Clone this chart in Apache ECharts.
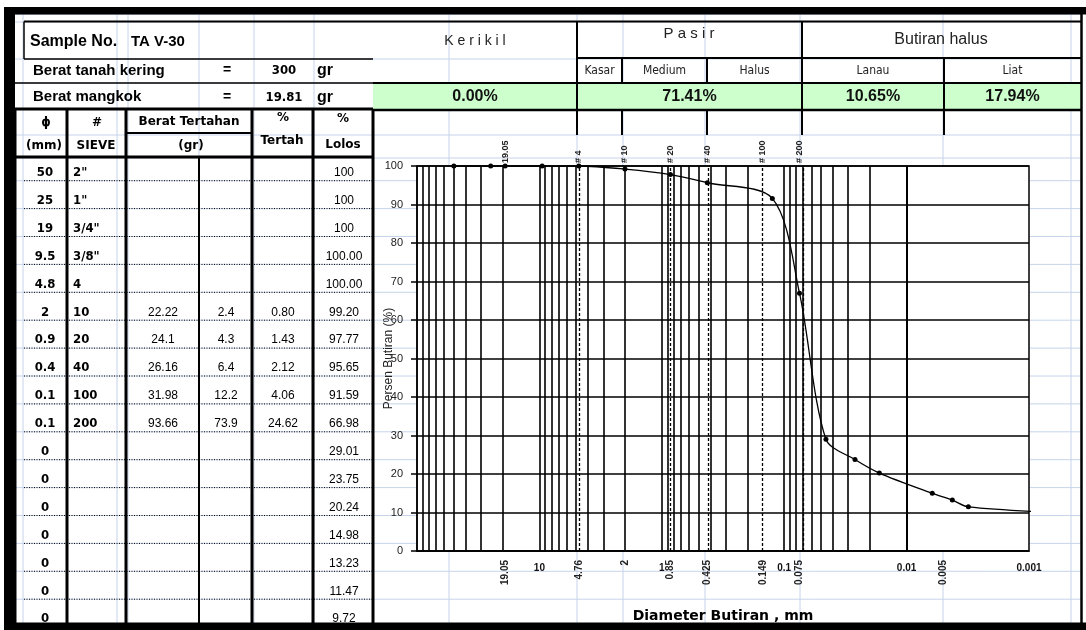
<!DOCTYPE html>
<html><head><meta charset="utf-8">
<script src="https://cdn.jsdelivr.net/npm/echarts@6/dist/echarts.min.js"></script>
<style>html,body{margin:0;padding:0;background:#fff}#c{width:1086px;height:630px}</style>
</head><body><div id="c"></div>
<script>
// ================= DATA =================
const sampleNo = 'TA V-30';
const beratTanahKering = '300';
const beratMangkok = '19.81';
const diaLabels = ['50','25','19','9.5','4.8','2','0.9','0.4','0.1','0.1','0','0','0','0','0','0','0'];
const sieveLabels = ['2"','1"','3/4"','3/8"','4','10','20','40','100','200','','','','','','',''];
const beratTertahanA = ['','','','','','22.22','24.1','26.16','31.98','93.66','','','','','','',''];
const beratTertahanB = ['','','','','','2.4','4.3','6.4','12.2','73.9','','','','','','',''];
const persenTertahan = ['','','','','','0.80','1.43','2.12','4.06','24.62','','','','','','',''];
const persenLolos = ['100','100','100','100.00','100.00','99.20','97.77','95.65','91.59','66.98','29.01','23.75','20.24','14.98','13.23','11.47','9.72'];
const fractionGroups = ['K e r i k i l','P a s i r','Butiran halus'];
const fractionSubs = ['Kasar','Medium','Halus','Lanau','Liat'];
const fractionValues = ['0.00%','71.41%','10.65%','17.94%'];

const curveDiameters = [50,25,19.05,9.5,4.76,2,0.85,0.425,0.125,0.075,0.0456,0.0264,0.0167,0.00617,0.00423,0.00313,0.0004];
const curvePercent = [100,100,100,100,100,99.20,97.77,95.65,91.59,66.98,29.01,23.75,20.24,14.98,13.23,11.47,9.72];
const sieveLineDiameters = [4.76,0.85,0.425,0.149,0.075];
const topLabelDiameters = [19.05,4.76,2,0.85,0.425,0.149,0.075];
const topLabels = ['19.05','# 4','# 10','# 20','# 40','# 100','# 200'];
const bottomLabelDiameters = [19.05,4.76,2,0.85,0.425,0.149,0.075,0.005];
const bottomLabels = ['19.05','4.76','2','0.85','0.425','0.149','0.075','0.005'];
const decadeLabels = ['0.001','0.01','0.1','1','10',''];   // for 10^-3 ... 10^2
const yMin = 0, yMax = 100, yStep = 10;

// ================= LAYOUT HELPERS =================
const G = [];
const LIGHT = '#c7d4ea';
function L(x1,y1,x2,y2,w,c,dash,z){G.push({type:'line',silent:true,z:z==null?10:z,shape:{x1,y1,x2,y2},style:{stroke:c||'#000',lineWidth:w||1,lineDash:dash||null}});}
function R(x,y,w,h,fill,z){G.push({type:'rect',silent:true,z:z==null?5:z,shape:{x,y,width:w,height:h},style:{fill}});}
function T(x,y,s,font,align,color,z){G.push({type:'text',silent:true,z:z==null?20:z,x,y,style:{text:s,font,align:align||'center',verticalAlign:'middle',fill:color||'#000'}});}

const FB = 'bold 12px "DejaVu Sans", sans-serif';
const FN = '"Liberation Sans Narrow","DejaVu Sans Condensed","Arial Narrow",sans-serif';
const FA = '"Liberation Sans", Arial, sans-serif';

// spreadsheet light grid
const rowStep = 27.9, row0 = 180.7;
const lightCols = [11.5,23,117,128,199,254,314,449,577,623,705,800,943,1071];
const lightRows = [14.5,22,59,83,109,135,158];
for (let k=0;k<16;k++) lightRows.push(row0+rowStep*k);
lightCols.forEach(x=>L(x,14,x,623,1,LIGHT,null,-1));
lightRows.forEach(y=>L(15,y,1081,y,1,LIGHT,null,-1));

// outer frame
R(4,7,1082,7.5,'#000',30);
R(4,7,11,623,'#000',30);
R(4,622.5,1082,8,'#000',30);
L(1081.5,14,1081.5,623,2.5,'#000',null,30);

// ---- upper-left info block ----
L(24,21.5,1081.5,21.5,2);
L(24,21.5,24,59,1.5);
L(24,59,373,59,1.5);
L(15,83,373,83,1.5);
L(15,109,373,109,3);
T(30,42,'Sample No.','bold 16px '+FA,'left');
T(131,42,sampleNo,'bold 15px '+FA,'left');
T(33,70.5,'Berat tanah kering','bold 15px '+FA,'left');
T(227,70.5,'=','bold 14px '+FA);
T(284,71,beratTanahKering,'bold 13px '+FN);
T(317,71,'gr','bold 16px '+FA,'left');
T(33,97,'Berat mangkok','bold 15px '+FA,'left');
T(227,97,'=','bold 14px '+FA);
T(284,97.5,beratMangkok,'bold 13px '+FN);
T(317,97.5,'gr','bold 16px '+FA,'left');

// ---- sieve table ----
const tcols = [15,67,126,252,313,373];
tcols.forEach(x=>L(x,109,x,623,3));
L(199,157,199,623,2);
L(126,133,252,133,2);
L(15,157,373,157,3);
T(46,123,'ɸ',FB); T(97,123,'#',FB);
T(189,122,'Berat Tertahan',FB);
T(283,118,'%',FB); T(282,141,'Tertah',FB);
T(343,119,'%',FB); T(343,145,'Lolos',FB);
T(44,146,'(mm)',FB); T(96,146,'SIEVE',FB); T(191,146,'(gr)',FB);
for (let k=0;k<17;k++){
  const yl = row0+rowStep*k;
  if (k<16) L(24,yl,372,yl,1,'#000',[1,1.5],12);
  const ty = yl-8;
  T(45,ty,diaLabels[k],'bold 13px '+FN);
  T(73,ty,sieveLabels[k],'bold 13px '+FN,'left');
  T(163,ty,beratTertahanA[k],'12px '+FA);
  T(226,ty,beratTertahanB[k],'12px '+FA);
  T(283,ty,persenTertahan[k],'12px '+FA);
  T(344,ty,persenLolos[k],'12px '+FA);
}

// ---- fraction header (right) ----
R(373,83,708.5,27,'#ccffcc',4);
L(577,58,1081.5,58,2);
L(373,83,1081.5,83,2);
L(373,110,1081.5,110,2.5);
L(577,21,577,135,2); L(802,21,802,135,2);
L(944,58,944,135,2);
L(622,58,622,83,2); L(707,58,707,83,2);
L(622,110,622,135,2); L(707,110,707,135,2);
T(475,41,fractionGroups[0],'14px '+FA,'center','#222');
T(689,34,fractionGroups[1],'15px '+FA,'center','#222');
T(941,40,fractionGroups[2],'16px '+FA,'center','#222');
const subC = [(577+622)/2,(622+707)/2,(707+802)/2,(802+944)/2,(944+1081)/2];
fractionSubs.forEach((s,i)=>T(subC[i],71,s,'12px '+FN,'center','#222'));
const valC = [(373+577)/2,(577+802)/2,(802+944)/2,(944+1081)/2];
fractionValues.forEach((s,i)=>T(valC[i],97,s,'bold 16px '+FA,'center','#111'));

// ================= CHART =================
const minorGrid = [];
for (let e=-3;e<=1;e++) for (let m=1;m<=9;m++){ const v=+(m*Math.pow(10,e)).toPrecision(6); if (v>0.001 && v<100) minorGrid.push(v); }

const chart = echarts.init(document.getElementById('c'), null, {renderer:'canvas'});
chart.setOption({
  animation:false,
  backgroundColor:'#fff',
  graphic:{elements:G},
  grid:{left:417, top:166, width:612, height:385, show:true, backgroundColor:'#fff', borderColor:'#000', borderWidth:1.5, containLabel:false},
  xAxis:{
    type:'log', logBase:10, min:0.001, max:100, inverse:true,
    name:'Diameter Butiran , mm', nameLocation:'middle', nameGap:58, nameMoveOverlap:false,
    nameTextStyle:{fontWeight:'bold', fontSize:14, fontFamily:'"DejaVu Sans", Verdana, sans-serif', color:'#000'},
    axisLine:{show:true,lineStyle:{color:'#000',width:1.5}},
    axisTick:{show:false}, splitLine:{show:false},
    axisLabel:{show:true, margin:12, color:'#111', fontWeight:'bold', fontSize:10, fontFamily:'Arial, "Liberation Sans", sans-serif',
      showMinLabel:true, showMaxLabel:true,
      formatter:v=>{const e=Math.round(Math.log10(v)); return decadeLabels[e+3]||'';}}
  },
  yAxis:{
    type:'value', min:yMin, max:yMax, interval:yStep,
    name:'Persen Butiran (%)', nameLocation:'middle', nameGap:22, nameMoveOverlap:false,
    nameTextStyle:{fontSize:12, color:'#222', fontFamily:'Arial, "Liberation Sans", sans-serif'},
    axisLine:{show:true,lineStyle:{color:'#000',width:1.5}},
    axisTick:{show:true,length:6,lineStyle:{color:'#000',width:1.5}},
    axisLabel:{margin:14,fontSize:11,color:'#222',fontFamily:'Arial, "Liberation Sans", sans-serif'},
    splitLine:{show:true,lineStyle:{color:'#000',width:1.5}}
  },
  series:[
    {type:'line', data:[], silent:true, z:1,
     markLine:{silent:true, symbol:'none', animation:false, label:{show:false},
       data: minorGrid.map(v=>({xAxis:v, lineStyle:{color:'#000',width:1.6,type:'solid'}}))
         .concat(sieveLineDiameters.map(v=>({xAxis:v, lineStyle:{color:'#000',width:1.3,type:[3,2]}})))}},
    {type:'line', name:'Lolos', data:curveDiameters.map((d,i)=>[d,curvePercent[i]]),
     smooth:0.3, symbol:'circle', symbolSize:5, clip:true, z:5,
     itemStyle:{color:'#000'}, lineStyle:{color:'#000',width:1.3}},
    {type:'custom', silent:true, clip:false, z:6,
     data: topLabelDiameters.map(d=>[d,yMax]),
     renderItem:(p,api)=>{const c=api.coord([api.value(0),api.value(1)]);
       return {type:'text',x:c[0],y:c[1]-3,rotation:Math.PI/2,
         style:{text:topLabels[p.dataIndex],align:'left',verticalAlign:'middle',font:'bold 9px Arial, "Liberation Sans", sans-serif',fill:'#222'}};}},
    {type:'custom', silent:true, clip:false, z:6,
     data: bottomLabelDiameters.map(d=>[d,yMin]),
     renderItem:(p,api)=>{const c=api.coord([api.value(0),api.value(1)]);
       return {type:'text',x:c[0],y:c[1]+9,rotation:Math.PI/2,
         style:{text:bottomLabels[p.dataIndex],align:'right',verticalAlign:'middle',font:'bold 10px Arial, "Liberation Sans", sans-serif',fill:'#222'}};}}
  ]
});
</script></body></html>
